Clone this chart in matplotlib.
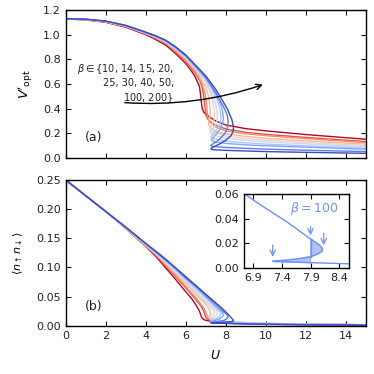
import numpy as np
import matplotlib
matplotlib.use("Agg")
import matplotlib.pyplot as plt

# beta values (one curve each)
betas = [10, 14, 15, 20, 25, 30, 40, 50, 100, 200]

# U along each curve (path order, so S-shaped loops go out and back)
U10 = [0, 1, 2, 3, 4, 4.5, 5, 5.5, 6, 6.3, 6.46, 6.6, 6.68, 6.73, 6.77, 6.82, 6.9, 7.0, 7.2, 7.5, 8, 9, 10, 12, 15]
V10 = [1.127, 1.120, 1.100, 1.060, 1.000, 0.960, 0.915, 0.845, 0.765, 0.700, 0.660, 0.610, 0.580, 0.520, 0.460, 0.400, 0.370, 0.355, 0.330, 0.300, 0.268, 0.238, 0.220, 0.190, 0.152]
D10 = [0.25, 0.223, 0.196, 0.167, 0.136, 0.119, 0.099, 0.079, 0.058, 0.046, 0.038, 0.030, 0.025, 0.020, 0.016, 0.013, 0.0105, 0.0092, 0.008, 0.0068, 0.006, 0.0046, 0.0036, 0.0025, 0.0016]

U14 = [0, 1, 2, 3, 4, 4.5, 5, 5.5, 6, 6.5, 6.7, 6.8, 6.88, 6.93, 6.97, 7.02, 7.1, 7.3, 7.5, 8, 9, 10, 12, 15]
V14 = [1.128, 1.121, 1.103, 1.065, 1.006, 0.969, 0.927, 0.862, 0.786, 0.680, 0.625, 0.580, 0.520, 0.450, 0.390, 0.340, 0.315, 0.285, 0.265, 0.235, 0.208, 0.192, 0.167, 0.133]
D14 = [0.25, 0.223, 0.196, 0.167, 0.137, 0.121, 0.102, 0.084, 0.065, 0.045, 0.036, 0.031, 0.026, 0.021, 0.0165, 0.013, 0.011, 0.0092, 0.008, 0.0066, 0.0048, 0.0038, 0.0026, 0.0016]

U15 = [0, 1, 2, 3, 4, 4.5, 5, 5.5, 6, 6.5, 6.8, 6.95, 7.02, 7.06, 7.1, 7.15, 7.3, 7.5, 8, 9, 10, 12, 15]
V15 = [1.128, 1.122, 1.104, 1.066, 1.008, 0.972, 0.931, 0.867, 0.793, 0.695, 0.605, 0.530, 0.460, 0.390, 0.330, 0.300, 0.275, 0.250, 0.220, 0.196, 0.181, 0.157, 0.125]
D15 = [0.25, 0.223, 0.196, 0.167, 0.137, 0.122, 0.104, 0.086, 0.067, 0.048, 0.035, 0.027, 0.021, 0.017, 0.014, 0.012, 0.0098, 0.0085, 0.0069, 0.005, 0.0039, 0.0027, 0.0017]

U20 = [0, 1, 2, 3, 4, 4.5, 5, 5.5, 6, 6.5, 7.0, 7.1, 7.17, 7.21, 7.22, 7.2, 7.15, 7.12, 7.15, 7.3, 7.5, 8, 9, 10, 12, 15]
V20 = [1.129, 1.123, 1.105, 1.068, 1.011, 0.977, 0.937, 0.875, 0.803, 0.710, 0.575, 0.520, 0.460, 0.400, 0.360, 0.330, 0.300, 0.280, 0.265, 0.240, 0.215, 0.195, 0.175, 0.160, 0.139, 0.112]
D20 = [0.25, 0.223, 0.196, 0.168, 0.138, 0.123, 0.106, 0.089, 0.072, 0.054, 0.037, 0.032, 0.028, 0.024, 0.021, 0.018, 0.016, 0.015, 0.0138, 0.0115, 0.0098, 0.0075, 0.0054, 0.0041, 0.0028, 0.0017]

U25 = [0, 1, 2, 3, 4, 4.5, 5, 5.5, 6, 6.5, 7.0, 7.2, 7.33, 7.4, 7.43, 7.4, 7.3, 7.2, 7.18, 7.25, 7.5, 8, 9, 10, 12, 15]
V25 = [1.129, 1.123, 1.106, 1.070, 1.013, 0.980, 0.941, 0.881, 0.810, 0.720, 0.610, 0.540, 0.470, 0.410, 0.350, 0.310, 0.270, 0.245, 0.235, 0.225, 0.205, 0.178, 0.158, 0.145, 0.126, 0.101]
D25 = [0.25, 0.223, 0.196, 0.168, 0.139, 0.124, 0.108, 0.092, 0.075, 0.058, 0.041, 0.034, 0.029, 0.026, 0.023, 0.020, 0.017, 0.0145, 0.014, 0.013, 0.010, 0.0072, 0.0052, 0.004, 0.0027, 0.0017]

U30 = [0, 1, 2, 3, 4, 4.5, 5, 5.5, 6, 6.5, 7.0, 7.3, 7.45, 7.55, 7.58, 7.55, 7.45, 7.3, 7.22, 7.3, 7.5, 8, 9, 10, 12, 15]
V30 = [1.129, 1.124, 1.107, 1.071, 1.014, 0.982, 0.944, 0.885, 0.815, 0.727, 0.625, 0.530, 0.460, 0.390, 0.340, 0.300, 0.260, 0.225, 0.205, 0.195, 0.182, 0.160, 0.143, 0.131, 0.114, 0.092]
D30 = [0.25, 0.223, 0.196, 0.168, 0.139, 0.124, 0.109, 0.093, 0.077, 0.060, 0.044, 0.034, 0.029, 0.025, 0.022, 0.019, 0.016, 0.0125, 0.011, 0.0098, 0.0085, 0.0066, 0.0049, 0.0038, 0.0026, 0.0016]

U40 = [0, 1, 2, 3, 4, 4.5, 5, 5.5, 6, 6.5, 7.0, 7.3, 7.55, 7.7, 7.76, 7.72, 7.6, 7.45, 7.3, 7.25, 7.3, 7.5, 8, 9, 10, 12, 15]
V40 = [1.130, 1.124, 1.108, 1.072, 1.016, 0.984, 0.947, 0.889, 0.821, 0.733, 0.640, 0.560, 0.480, 0.400, 0.330, 0.290, 0.245, 0.210, 0.180, 0.170, 0.163, 0.153, 0.137, 0.123, 0.113, 0.099, 0.080]
D40 = [0.25, 0.223, 0.196, 0.169, 0.140, 0.125, 0.111, 0.096, 0.080, 0.064, 0.048, 0.038, 0.029, 0.024, 0.021, 0.017, 0.0135, 0.011, 0.009, 0.0083, 0.0078, 0.007, 0.0058, 0.0044, 0.0035, 0.0024, 0.0015]

U50 = [0, 1, 2, 3, 4, 4.5, 5, 5.5, 6, 6.5, 7.0, 7.3, 7.6, 7.8, 7.88, 7.84, 7.7, 7.5, 7.35, 7.27, 7.33, 7.5, 8, 9, 10, 12, 15]
V50 = [1.130, 1.124, 1.109, 1.073, 1.017, 0.986, 0.949, 0.892, 0.825, 0.738, 0.648, 0.575, 0.490, 0.410, 0.320, 0.280, 0.230, 0.190, 0.160, 0.145, 0.138, 0.130, 0.118, 0.107, 0.099, 0.088, 0.071]
D50 = [0.25, 0.223, 0.196, 0.169, 0.140, 0.126, 0.112, 0.097, 0.081, 0.066, 0.050, 0.040, 0.030, 0.024, 0.020, 0.016, 0.012, 0.0095, 0.008, 0.0072, 0.0068, 0.0062, 0.0053, 0.0041, 0.0033, 0.0023, 0.0015]

U100 = [0, 1, 2, 3, 4, 4.5, 5, 5.5, 6, 6.5, 6.75, 7.0, 7.5, 7.9, 8.0, 8.08, 8.11, 8.1, 8.06, 8.0, 7.9, 7.7, 7.5, 7.3, 7.24, 7.3, 7.5, 7.9, 8.0, 8.57, 9, 10, 12, 15]
V100 = [1.130, 1.125, 1.110, 1.074, 1.019, 0.988, 0.952, 0.897, 0.831, 0.745, 0.700, 0.652, 0.530, 0.410, 0.375, 0.340, 0.300, 0.270, 0.240, 0.215, 0.190, 0.155, 0.130, 0.110, 0.100, 0.096, 0.092, 0.087, 0.086, 0.081, 0.078, 0.072, 0.063, 0.052]
D100 = [0.25, 0.223, 0.196, 0.169, 0.141, 0.127, 0.113, 0.098, 0.082, 0.068, 0.060, 0.052, 0.037, 0.0235, 0.0205, 0.0175, 0.0154, 0.0138, 0.0122, 0.0108, 0.0092, 0.0076, 0.0065, 0.0057, 0.0054, 0.0052, 0.0049, 0.0043, 0.0042, 0.0034, 0.003, 0.0025, 0.0017, 0.0011]

U200 = [0, 1, 2, 3, 4, 4.5, 5, 5.5, 6, 6.5, 7.0, 7.5, 7.8, 8.1, 8.3, 8.38, 8.36, 8.25, 8.0, 7.7, 7.45, 7.3, 7.26, 7.3, 7.5, 8, 9, 10, 12, 15]
V200 = [1.130, 1.125, 1.110, 1.075, 1.020, 0.990, 0.955, 0.900, 0.835, 0.750, 0.665, 0.555, 0.475, 0.390, 0.310, 0.250, 0.215, 0.180, 0.145, 0.115, 0.095, 0.083, 0.074, 0.069, 0.066, 0.062, 0.057, 0.052, 0.046, 0.038]
D200 = [0.25, 0.223, 0.196, 0.169, 0.141, 0.128, 0.114, 0.099, 0.084, 0.069, 0.054, 0.039, 0.030, 0.020, 0.0125, 0.009, 0.0078, 0.007, 0.0062, 0.0055, 0.0051, 0.0049, 0.0047, 0.0046, 0.0044, 0.004, 0.003, 0.0024, 0.0016, 0.001]

U_all = [U10, U14, U15, U20, U25, U30, U40, U50, U100, U200]
V_all = [V10, V14, V15, V20, V25, V30, V40, V50, V100, V200]
D_all = [D10, D14, D15, D20, D25, D30, D40, D50, D100, D200]

# inset arrows for beta = 100: (U, D start, D end)
arrows_in = [(7.24, 0.0186, 0.0090), (7.90, 0.0335, 0.0265), (8.13, 0.0284, 0.0184)]

colors = plt.cm.coolwarm_r(np.linspace(0, 1, len(betas)))
c_in = '#6f92f3'

fig = plt.figure(figsize=(3.74, 3.74), dpi=100)
ax_a = fig.add_axes([0.1757, 0.5775, 0.803, 0.3958])
ax_b = fig.add_axes([0.1757, 0.1291, 0.803, 0.3896])
ax_in = fig.add_axes([0.6524, 0.2834, 0.2807, 0.1979])

for ax in (ax_a, ax_b, ax_in):
    ax.tick_params(direction='in', top=True, right=True, labelsize=8, length=3.5, width=0.8,
                   labelcolor='#222222')
    for s in ax.spines.values():
        s.set_linewidth(1.0)

for U, V, D, c in zip(U_all, V_all, D_all, colors):
    ax_a.plot(U, V, color=c, lw=1.0)
    ax_b.plot(U, D, color=c, lw=1.0)

# panel (a)
ax_a.set_xlim(0, 15)
ax_a.set_ylim(0, 1.2)
ax_a.set_xticks(np.arange(0, 15, 2))
ax_a.set_xticklabels([])
ax_a.set_yticks(np.arange(0, 1.21, 0.2))
ax_a.set_yticklabels(['%.1f' % v for v in np.arange(0, 1.21, 0.2)])
ax_a.set_ylabel(r"$V'_{\mathrm{opt}}$", fontsize=9.5, labelpad=6)
ax_a.text(1.4, 0.17, '(a)', fontsize=9, ha='center', va='center', color='#222222')
ax_a.text(5.4, 0.605, r'$\beta\in\{$10, 14, 15, 20,' + '\n25, 30, 40, 50,\n' + r'100, 200$\}$',
          fontsize=7, ha='right', va='center', linespacing=1.25, color='#222222')
ax_a.annotate('', xy=(9.85, 0.595), xytext=(2.95, 0.449),
              arrowprops=dict(arrowstyle='->', color='k', lw=1.0,
                              connectionstyle='arc3,rad=0.1', shrinkA=0, shrinkB=0))

# panel (b)
ax_b.set_xlim(0, 15)
ax_b.set_ylim(0, 0.25)
ax_b.set_xticks(np.arange(0, 15, 2))
ax_b.set_yticks(np.arange(0, 0.251, 0.05))
ax_b.set_yticklabels(['%.2f' % v for v in np.arange(0, 0.251, 0.05)])
ax_b.set_xlabel(r'$U$', fontsize=9, labelpad=6)
ax_b.set_ylabel(r'$\langle n_\uparrow n_\downarrow\rangle$', fontsize=8, labelpad=8)
ax_b.text(1.4, 0.033, '(b)', fontsize=9, ha='center', va='center', color='#222222')

# inset: beta = 100 with equal-area construction
i_up, i_mid, i_low = [i for i, u in enumerate(U100) if u == 7.9]
ax_in.fill(U100[i_up:i_mid + 1], D100[i_up:i_mid + 1], color=c_in, alpha=0.55, lw=0.8)
ax_in.fill(U100[i_mid:i_low + 1], D100[i_mid:i_low + 1], color=c_in, alpha=0.55, lw=0.8)
ax_in.plot(U100, D100, color=c_in, lw=1.0)
ax_in.plot([U100[i_up], U100[i_mid]], [D100[i_up], D100[i_mid]], color=c_in, lw=1.0)
for u, d0, d1 in arrows_in:
    ax_in.annotate('', xy=(u, d1), xytext=(u, d0),
                   arrowprops=dict(arrowstyle='->', color=c_in, lw=0.9, shrinkA=0, shrinkB=0))
ax_in.text(7.96, 0.048, r'$\beta = 100$', fontsize=9, color=c_in, ha='center', va='center')
ax_in.set_xlim(6.74, 8.57)
ax_in.set_ylim(0, 0.06)
ax_in.set_xticks([6.9, 7.4, 7.9, 8.4])
ax_in.set_yticks([0, 0.02, 0.04, 0.06])
ax_in.set_yticklabels(['0.00', '0.02', '0.04', '0.06'])

fig.savefig('out.png', dpi=100)
